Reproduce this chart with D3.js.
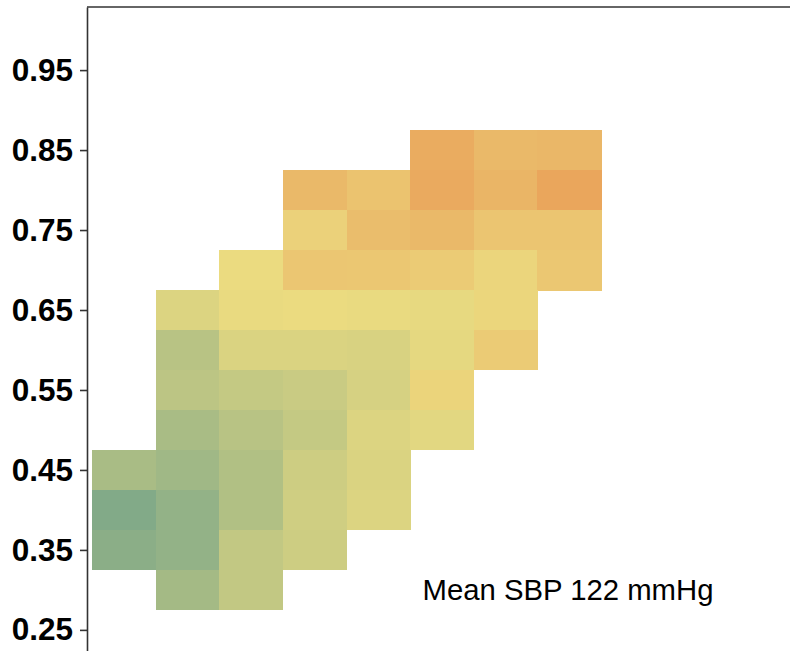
<!DOCTYPE html>
<html>
<head>
<meta charset="utf-8">
<script src="https://cdn.jsdelivr.net/npm/d3@7"></script>
<style>
  body { margin: 0; background: #fff; }
  svg { display: block; }
</style>
</head>
<body>
<svg id="chart" width="790" height="651"></svg>
<script>
// column categories (x axis itself lies outside the visible crop)
const columns = ['c0', 'c1', 'c2', 'c3', 'c4', 'c5', 'c6', 'c7'];
// row centres on the y axis, top row first
const rowLevels = [0.85, 0.80, 0.75, 0.70, 0.65, 0.60, 0.55, 0.50, 0.45, 0.40, 0.35, 0.30];
// cell values (0 = green, 0.5 = yellow, 1 = orange), null = no cell
const cellValues = [
  [null, null, null, null, null, 0.94, 0.82, 0.84],
  [null, null, null, 0.82, 0.73, 0.96, 0.86, 1.00],
  [null, null, null, 0.59, 0.78, 0.82, 0.71, 0.71],
  [null, null, 0.50, 0.70, 0.69, 0.65, 0.56, 0.69],
  [null, 0.43, 0.49, 0.50, 0.49, 0.48, 0.55, null],
  [null, 0.26, 0.42, 0.42, 0.41, 0.47, 0.65, null],
  [null, 0.28, 0.32, 0.34, 0.40, 0.57, null, null],
  [null, 0.19, 0.26, 0.32, 0.43, 0.46, null, null],
  [0.19, 0.15, 0.23, 0.36, 0.42, null, null, null],
  [0.01, 0.09, 0.23, 0.37, 0.43, null, null, null],
  [0.05, 0.09, 0.31, 0.36, null, null, null, null],
  [null, 0.17, 0.31, null, null, null, null, null]
];
const yTicks = [0.25, 0.35, 0.45, 0.55, 0.65, 0.75, 0.85, 0.95];
const annotation = 'Mean SBP 122 mmHg';

const svg = d3.select('#chart');
const W = +svg.attr('width');
const H = +svg.attr('height');
const marginLeft = 87;
const marginTop = 7;

const x = d3.scaleBand().domain(columns).range([92, 601]).paddingInner(0);
const y = d3.scaleLinear().domain([0.2236, 1.0289]).range([H, marginTop]);
const cellH = y(0) - y(0.05);

const color = d3.scaleLinear()
  .domain([0, 0.5, 1])
  .range(['#80a988', '#ebdb80', '#eaa65c'])
  .interpolate(d3.interpolateRgb);

// flatten matrix into cells
const cells = [];
rowLevels.forEach((lvl, i) => {
  cellValues[i].forEach((v, j) => {
    if (v !== null) cells.push({ col: columns[j], level: lvl, value: v });
  });
});

svg.append('g')
  .attr('shape-rendering', 'crispEdges')
  .selectAll('rect')
  .data(cells)
  .join('rect')
  .attr('x', d => x(d.col))
  .attr('y', d => y(d.level + 0.025))
  .attr('width', x.bandwidth() + 0.5)
  .attr('height', cellH + 0.5)
  .attr('fill', d => color(d.value));

// panel top border
svg.append('line')
  .attr('x1', marginLeft).attr('x2', W)
  .attr('y1', marginTop).attr('y2', marginTop)
  .attr('stroke', '#333').attr('stroke-width', 1.6);

// y axis
const yAxis = svg.append('g')
  .attr('transform', `translate(${marginLeft},0)`)
  .call(d3.axisLeft(y).tickValues(yTicks).tickFormat(d3.format('.2f'))
    .tickSize(7).tickSizeOuter(0).tickPadding(7));
yAxis.select('.domain').attr('stroke', '#333').attr('stroke-width', 1.6);
yAxis.selectAll('.tick line').attr('stroke', '#333').attr('stroke-width', 1.6);
yAxis.selectAll('.tick text')
  .attr('fill', '#000')
  .attr('font-family', 'Liberation Sans, Arial, sans-serif')
  .attr('font-weight', 'bold')
  .attr('font-size', 31.5);

// annotation
svg.append('text')
  .attr('x', 568)
  .attr('y', 600)
  .attr('text-anchor', 'middle')
  .attr('font-family', 'Liberation Sans, Arial, sans-serif')
  .attr('font-size', 29.3)
  .attr('fill', '#000')
  .text(annotation);
</script>
</body>
</html>
